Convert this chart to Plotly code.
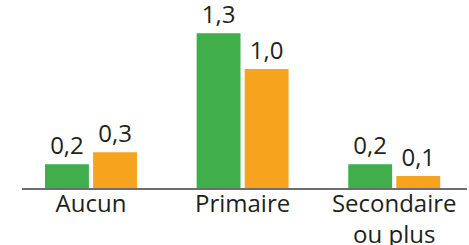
import plotly.graph_objects as go

categories = ["Aucun", "Primaire", "Secondaire<br>ou plus"]
serie_a = [0.2, 1.3, 0.2]
serie_b = [0.3, 1.0, 0.1]
labels_a = ["0,2", "1,3", "0,2"]
labels_b = ["0,3", "1,0", "0,1"]

FONT = "Open Sans"
TXT = "#231F20"
FS = 24

fig = go.Figure()
fig.add_trace(go.Bar(x=categories, y=serie_a, text=labels_a, textposition="outside",
                     constraintext="none",
                     marker=dict(color="#40AE4B", line=dict(width=0)),
                     textfont=dict(family=FONT, size=FS, color=TXT), cliponaxis=False))
fig.add_trace(go.Bar(x=categories, y=serie_b, text=labels_b, textposition="outside",
                     constraintext="none",
                     marker=dict(color="#F6A31E", line=dict(width=0)),
                     textfont=dict(family=FONT, size=FS, color=TXT), cliponaxis=False))

fig.update_layout(
    width=469, height=245,
    margin=dict(l=22, r=2, t=0, b=56.5, autoexpand=False),
    paper_bgcolor="white", plot_bgcolor="white",
    barmode="group", bargap=0.366, bargroupgap=0.087,
    showlegend=False,
    font=dict(family=FONT, size=FS, color=TXT),
)
fig.update_xaxes(range=[-0.455, 2.48], showline=True, linecolor="#6D6E71", linewidth=1.5,
                 ticks="", showgrid=False, zeroline=False, automargin=False,
                 ticklabelstandoff=-7,
                 tickfont=dict(family=FONT, size=FS, color=TXT))
fig.update_yaxes(range=[0, 1.58], visible=False, showgrid=False, zeroline=False,
                 automargin=False)

fig.write_html("out.html", config={"displayModeBar": False},
               post_script="document.body.style.margin='0';document.body.style.overflow='hidden';")
